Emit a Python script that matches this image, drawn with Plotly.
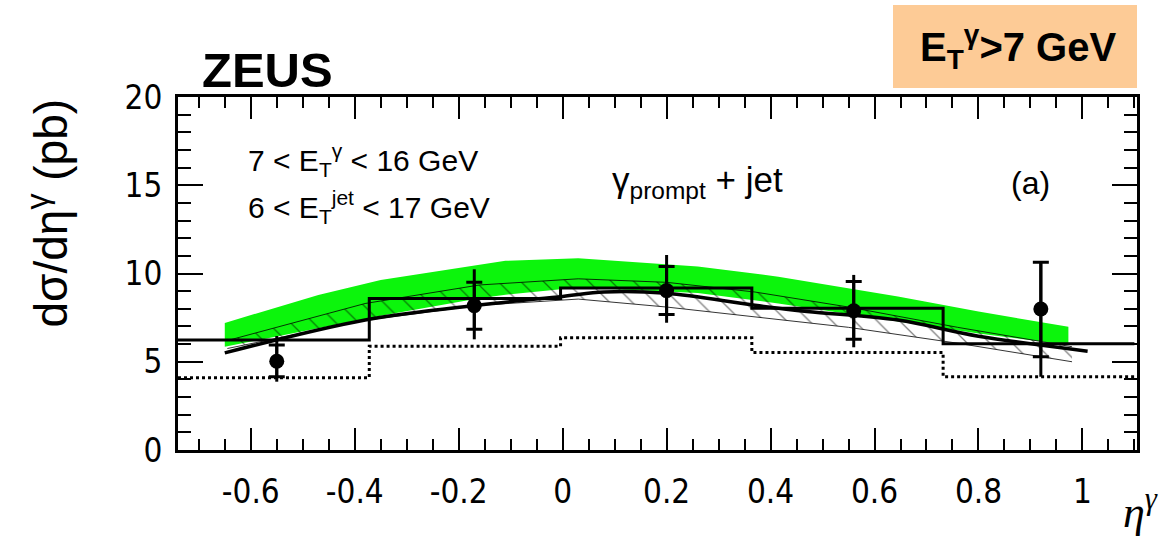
import plotly.graph_objects as go

# ---------------- data ----------------
eta_pts = [-0.55, -0.17, 0.20, 0.56, 0.92]
xsec = [5.03, 8.18, 9.03, 7.89, 7.99]
stat_up = [0.92, 1.32, 1.36, 1.65, 2.65]
stat_dn = [0.88, 1.34, 1.36, 1.62, 2.70]
tot_up = [1.43, 2.06, 2.02, 2.03, 2.70]
tot_dn = [1.16, 1.91, 1.82, 2.07, 3.84]

bin_edges = [-0.74, -0.372, -0.004, 0.364, 0.732, 1.1]
hist_solid = [6.23, 8.59, 9.18, 8.03, 6.02]
hist_dotted = [4.10, 5.88, 6.36, 5.53, 4.15]

green_x = [-0.65, -0.47, -0.35, -0.16, -0.11, 0.03, 0.26, 0.415, 0.645, 0.80, 0.973]
green_up = [7.20, 8.78, 9.63, 10.48, 10.72, 10.86, 10.40, 9.82, 8.69, 7.84, 6.99]
green_lo = [5.85, 6.90, 7.60, 8.60, 8.80, 9.20, 8.90, 8.30, 7.30, 6.60, 5.95]

hatch_x = [-0.645, -0.38, -0.16, 0.03, 0.20, 0.37, 0.55, 0.76, 0.98]
hatch_up = [6.20, 8.30, 9.35, 9.70, 9.50, 8.95, 8.10, 6.95, 5.85]
hatch_lo = [5.75, 7.35, 8.20, 8.55, 8.10, 7.55, 6.95, 6.05, 5.00]

curve_x = [-0.65, -0.38, -0.16, 0.0, 0.08, 0.20, 0.37, 0.47, 0.645, 0.80, 1.01]
curve_y = [5.50, 7.37, 8.22, 8.70, 8.95, 8.88, 8.20, 7.85, 7.36, 6.45, 5.60]

x_ticks = [-0.6, -0.4, -0.2, 0, 0.2, 0.4, 0.6, 0.8, 1.0]
x_ticklabels = ["-0.6", "-0.4", "-0.2", "0", "0.2", "0.4", "0.6", "0.8", "1"]
y_ticks = [0, 5, 10, 15, 20]
y_ticklabels = ["0", "5", "10", "15", "20"]

# -------------- figure ----------------
W, H = 1173, 539
L, R, T, B = 178, 36, 97, 89
pw, ph = W - L - R, H - T - B


def px(x):
    return (x - L) / pw


def py(y):
    return (H - B - y) / ph


fig = go.Figure()

# green band
fig.add_trace(go.Scatter(x=green_x, y=green_lo, mode="lines",
                         line=dict(width=0, color="rgba(0,0,0,0)"),
                         showlegend=False, hoverinfo="skip"))
fig.add_trace(go.Scatter(x=green_x, y=green_up, mode="lines", fill="tonexty",
                         fillcolor="rgb(12,245,12)",
                         line=dict(width=0, color="rgba(0,0,0,0)"),
                         showlegend=False, hoverinfo="skip"))

# hatched band
fig.add_trace(go.Scatter(x=hatch_x, y=hatch_lo, mode="lines",
                         line=dict(width=0.8, color="black"),
                         showlegend=False, hoverinfo="skip"))
fig.add_trace(go.Scatter(x=hatch_x, y=hatch_up, mode="lines", fill="tonexty",
                         fillcolor="rgba(0,0,0,0)",
                         fillpattern=dict(shape="\\", fgcolor="black",
                                          bgcolor="rgba(0,0,0,0)",
                                          size=16, solidity=0.08),
                         line=dict(width=0.8, color="black"),
                         showlegend=False, hoverinfo="skip"))

# thick theory curve
fig.add_trace(go.Scatter(x=curve_x, y=curve_y, mode="lines",
                         line=dict(width=3.5, color="black", shape="spline"),
                         showlegend=False, hoverinfo="skip"))

# histograms
fig.add_trace(go.Scatter(x=bin_edges, y=hist_solid + [hist_solid[-1]], mode="lines",
                         line=dict(width=3, color="black", shape="hv"),
                         showlegend=False, hoverinfo="skip"))
fig.add_trace(go.Scatter(x=bin_edges, y=hist_dotted + [hist_dotted[-1]], mode="lines",
                         line=dict(width=3, color="black", shape="hv", dash="dot"),
                         showlegend=False, hoverinfo="skip"))

# data: total errors (no caps) then stat errors with caps
fig.add_trace(go.Scatter(x=eta_pts, y=xsec, mode="markers",
                         marker=dict(size=1, color="black"),
                         error_y=dict(type="data", symmetric=False, array=tot_up,
                                      arrayminus=tot_dn, width=0, thickness=3,
                                      color="black"),
                         showlegend=False, hoverinfo="skip"))
fig.add_trace(go.Scatter(x=eta_pts, y=xsec, mode="markers",
                         marker=dict(size=15, color="black", symbol="circle"),
                         error_y=dict(type="data", symmetric=False, array=stat_up,
                                      arrayminus=stat_dn, width=8, thickness=3,
                                      color="black"),
                         showlegend=False, hoverinfo="skip"))

tickfont = dict(family="Liberation Sans Narrow, DejaVu Sans Condensed, Arial Narrow, sans-serif",
                size=33, color="black")

fig.update_layout(
    width=W, height=H,
    margin=dict(l=L, r=R, t=T, b=B),
    paper_bgcolor="white", plot_bgcolor="white",
    xaxis=dict(range=[-0.74, 1.105], showgrid=False, zeroline=False,
               showline=True, linecolor="black", linewidth=3, mirror="allticks",
               ticks="inside", ticklen=22, tickwidth=2, tickcolor="black",
               tickvals=x_ticks, ticktext=x_ticklabels, tickfont=tickfont,
               ticklabelstandoff=10,
               minor=dict(ticks="inside", dtick=0.05, tick0=0, ticklen=11,
                          tickwidth=2, tickcolor="black", showgrid=False)),
    yaxis=dict(range=[0, 20], showgrid=False, zeroline=False,
               showline=True, linecolor="black", linewidth=3, mirror="allticks",
               ticks="inside", ticklen=25, tickwidth=2, tickcolor="black",
               tickvals=y_ticks, ticktext=y_ticklabels, tickfont=tickfont,
               ticklabelstandoff=6,
               minor=dict(ticks="inside", dtick=1, tick0=0, ticklen=13,
                          tickwidth=2, tickcolor="black", showgrid=False)),
)

sans = "Liberation Sans, Arial, Helvetica, sans-serif"
annots = [
    dict(x=px(200), y=py(70), text="<b>ZEUS</b>", xanchor="left", yanchor="middle",
         font=dict(family=sans, size=49, color="black")),
    dict(x=px(246), y=py(160), text="7 < E<sub>T</sub><sup>γ</sup> < 16 GeV",
         xanchor="left", yanchor="middle", font=dict(family=sans, size=30, color="black")),
    dict(x=px(246), y=py(207), text="6 < E<sub>T</sub><sup>jet</sup> < 17 GeV",
         xanchor="left", yanchor="middle", font=dict(family=sans, size=30, color="black")),
    dict(x=px(610), y=py(182), text="γ<sub>prompt</sub> + jet",
         xanchor="left", yanchor="middle", font=dict(family=sans, size=35, color="black")),
    dict(x=px(1030), y=py(183), text="(a)", xanchor="center", yanchor="middle",
         font=dict(family=sans, size=32, color="black")),
    dict(x=px(1118), y=py(47), text="<b>E<sub>T</sub><sup>γ</sup>>7 GeV</b>",
         xanchor="right", yanchor="middle",
         font=dict(family=sans, size=40, color="black")),
    dict(x=px(1160), y=py(510), text="<i>η</i><sup><i>γ</i></sup>",
         xanchor="right", yanchor="middle",
         font=dict(family="Liberation Serif, DejaVu Serif, serif", size=44, color="black")),
    dict(x=px(47), y=py(97), text="dσ/dη<sup>γ</sup> (pb)", textangle=-90,
         xanchor="center", yanchor="top",
         font=dict(family=sans, size=46, color="black")),
]
for a in annots:
    a.update(xref="paper", yref="paper", showarrow=False)
fig.update_layout(annotations=annots)

fig.add_shape(type="rect", xref="paper", yref="paper",
              x0=px(893), x1=px(1137), y0=py(88), y1=py(5),
              fillcolor="#FDCB96", line=dict(width=0), layer="below")

fig.write_html("out.html")
